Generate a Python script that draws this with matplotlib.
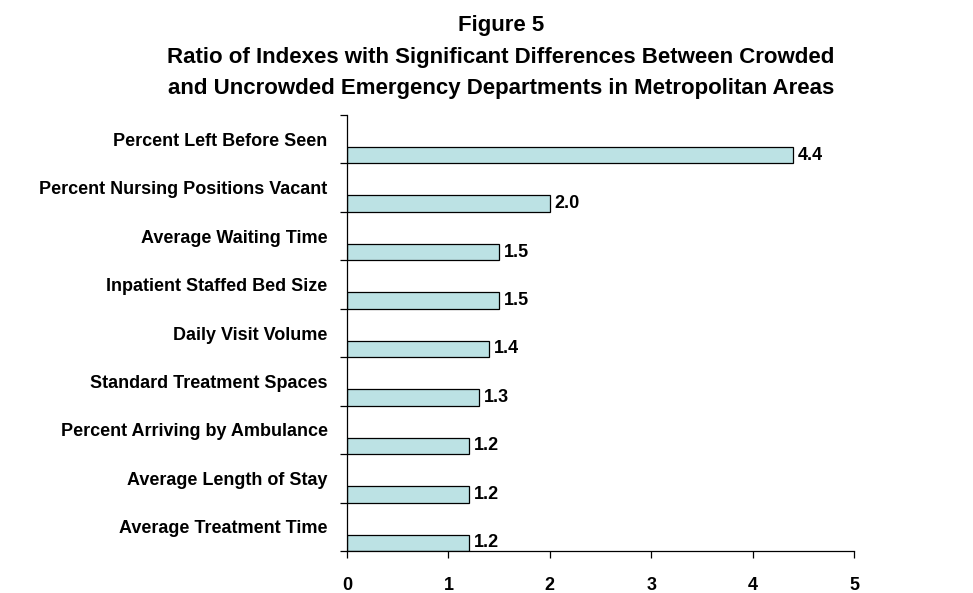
import matplotlib
matplotlib.use("Agg")
import matplotlib.pyplot as plt
import numpy as np

categories = [
    "Percent Left Before Seen",
    "Percent Nursing Positions Vacant",
    "Average Waiting Time",
    "Inpatient Staffed Bed Size",
    "Daily Visit Volume",
    "Standard Treatment Spaces",
    "Percent Arriving by Ambulance",
    "Average Length of Stay",
    "Average Treatment Time",
]
values = [4.4, 2.0, 1.5, 1.5, 1.4, 1.3, 1.2, 1.2, 1.2]
value_labels = ["4.4", "2.0", "1.5", "1.5", "1.4", "1.3", "1.2", "1.2", "1.2"]
x_ticks = [0, 1, 2, 3, 4, 5]
title_lines = [
    "Figure 5",
    "Ratio of Indexes with Significant Differences Between Crowded",
    "and Uncrowded Emergency Departments in Metropolitan Areas",
]

plt.rcParams['font.family'] = ['Liberation Sans', 'DejaVu Sans']

W, H = 973, 593
fig = plt.figure(figsize=(W / 100, H / 100), dpi=100)
ax = fig.add_axes([347 / W, 42 / H, 507 / W, 436 / H])

n = len(categories)
slot_pos = np.arange(n)[::-1]  # top category at highest slot
bar_h = 0.34
ax.barh(slot_pos + bar_h / 2, values, height=bar_h, color="#BCE2E4",
        edgecolor="black", linewidth=0.9, zorder=2)

for y, v, lab in zip(slot_pos, values, value_labels):
    ax.text(v + 0.05, y + bar_h / 2, lab, ha="left", va="center",
            fontsize=13, fontweight="bold")

ax.set_xlim(0, 5)
ax.set_ylim(0, n)
ax.set_xticks(x_ticks)
ax.set_xticklabels([str(t) for t in x_ticks], fontsize=13, fontweight="bold")
ax.set_yticks(np.arange(n + 1))
ax.set_yticklabels([])
ax.set_yticks(slot_pos + 0.5, minor=True)
ax.set_yticklabels(categories, minor=True, fontsize=13, fontweight="bold")
ax.tick_params(axis="y", which="minor", length=0, pad=14)
ax.tick_params(axis="y", which="major", length=5, width=0.9, direction="out")
ax.tick_params(axis="x", length=5, width=0.9, direction="out", pad=14)

for s in ["top", "right"]:
    ax.spines[s].set_visible(False)
for s in ["left", "bottom"]:
    ax.spines[s].set_linewidth(0.9)

baselines = [31, 63, 94]
for line, yb in zip(title_lines, baselines):
    fig.text(501 / W, 1 - yb / H, line, ha="center", va="baseline",
             fontsize=16, fontweight="bold")

fig.savefig("out.png", dpi=100)
